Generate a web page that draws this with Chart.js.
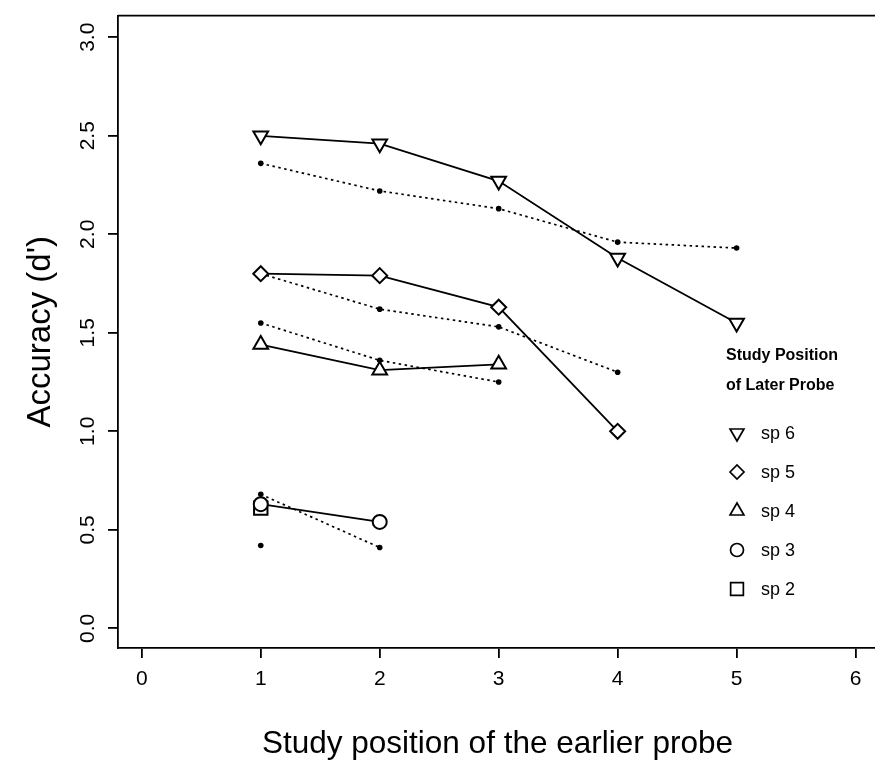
<!DOCTYPE html>
<html><head><meta charset="utf-8">
<script src="https://cdn.jsdelivr.net/npm/chart.js@4.4.1/dist/chart.umd.min.js"></script>
<style>
html,body{margin:0;padding:0;background:#fff;overflow:hidden;width:875px;height:762px}
#wrap{position:absolute;left:0;top:0;width:880px;height:762px}
</style>
</head><body><div id="wrap"><canvas id="c" width="880" height="762"></canvas></div>
<script>
// ---- data ----
const earlierPos = [1, 2, 3, 4, 5];
const xTicks = [0, 1, 2, 3, 4, 5, 6];
const yTicks = [0, 0.5, 1.0, 1.5, 2.0, 2.5, 3.0];
const seriesNames = ['sp 6', 'sp 5', 'sp 4', 'sp 3', 'sp 2'];
// solid lines with open symbols
const sp6 = [2.50, 2.46, 2.27, 1.88, 1.55];
const sp5 = [1.80, 1.79, 1.63, 1.00];
const sp4 = [1.44, 1.31, 1.34];
const sp3 = [0.63, 0.54];
const sp2 = [0.61];
// dotted lines with small dots
const sp6Dot = [2.36, 2.22, 2.13, 1.96, 1.93];
const sp5Dot = [1.80, 1.62, 1.53, 1.30];
const sp4Dot = [1.55, 1.36, 1.25];
const sp3Dot = [0.68, 0.41];
const sp2Dot = [0.42];

const solidSeries = [sp6, sp5, sp4, sp3, sp2];
const dotSeries = [sp6Dot, sp5Dot, sp4Dot, sp3Dot, sp2Dot];
const markerStyles = [
  {pointStyle: 'triangle', rotation: 180, radius: 8.5},
  {pointStyle: 'rectRot', rotation: 0, radius: 7.5},
  {pointStyle: 'triangle', rotation: 0, radius: 8.5},
  {pointStyle: 'circle', rotation: 0, radius: 7},
  {pointStyle: 'rect', rotation: 0, radius: 9.5}
];

const toPts = vals => vals.map((v, i) => ({x: earlierPos[i], y: v}));
const FONT = "'Liberation Sans', Arial, Helvetica, sans-serif";

const datasets = [];
solidSeries.forEach((vals, i) => {
  const m = markerStyles[i];
  datasets.push({
    label: seriesNames[i],
    data: toPts(vals),
    borderColor: '#000', borderWidth: 1.8,
    pointStyle: m.pointStyle, pointRotation: m.rotation, pointRadius: m.radius,
    pointBorderWidth: 2, pointBackgroundColor: '#fff', pointBorderColor: '#000',
    fill: false, tension: 0
  });
});
dotSeries.forEach((vals, i) => {
  datasets.push({
    label: seriesNames[i] + ' (dotted)',
    data: toPts(vals),
    borderColor: '#000', borderWidth: 1.7, borderDash: [2.5, 3.5],
    pointStyle: 'circle', pointRadius: 2.8, pointBorderWidth: 0,
    pointBackgroundColor: '#000', fill: false, tension: 0
  });
});

const boxAndLabels = {
  id: 'boxAndLabels',
  afterDraw(chart) {
    const ctx = chart.ctx, a = chart.chartArea;
    ctx.save();
    // top border of plot box
    ctx.strokeStyle = '#000'; ctx.lineWidth = 1.8;
    ctx.beginPath(); ctx.moveTo(a.left, a.top); ctx.lineTo(a.right, a.top); ctx.stroke();
    // rotated y tick labels
    const ys = chart.scales.y;
    ctx.fillStyle = '#000';
    ctx.font = '21px ' + FONT;
    ctx.textAlign = 'center'; ctx.textBaseline = 'middle';
    ys.ticks.forEach((t, i) => {
      const py = ys.getPixelForTick(i);
      ctx.save(); ctx.translate(88, py); ctx.rotate(-Math.PI / 2);
      ctx.fillText(t.label, 0, 0); ctx.restore();
    });
    // legend
    ctx.textAlign = 'left';
    ctx.font = 'bold 16px ' + FONT;
    ctx.fillText('Study Position', 726, 356);
    ctx.fillText('of Later Probe', 726, 386);
    ctx.font = '18px ' + FONT;
    seriesNames.forEach((name, i) => {
      const y = 433 + 39 * i;
      const m = markerStyles[i];
      ctx.lineWidth = 1.7; ctx.strokeStyle = '#000'; ctx.fillStyle = '#fff';
      Chart.helpers.drawPoint(ctx, {pointStyle: m.pointStyle, rotation: m.rotation, radius: m.radius - 0.5, borderWidth: 1.7}, 737, y);
      ctx.fillStyle = '#000';
      ctx.fillText(name, 761, y + 1);
    });
    ctx.restore();
  }
};

new Chart(document.getElementById('c'), {
  type: 'line',
  data: {datasets},
  plugins: [boxAndLabels],
  options: {
    responsive: false, animation: false,
    layout: {autoPadding: false, padding: {top: 13, right: 3, left: 0, bottom: 0}},
    plugins: {legend: {display: false}, tooltip: {enabled: false}},
    scales: {
      x: {
        type: 'linear', min: -0.2, max: 6.18,
        afterBuildTicks: s => { s.ticks = xTicks.map(v => ({value: v})); },
        afterFit: s => { s.height = 114; },
        ticks: {color: '#000', font: {family: FONT, size: 21}, padding: 9, callback: v => String(v)},
        grid: {drawOnChartArea: false, drawTicks: true, tickLength: 10, color: '#000', lineWidth: 1.8},
        border: {display: true, color: '#000', width: 1.8},
        title: {display: true, text: 'Study position of the earlier probe', color: '#000',
                font: {family: FONT, size: 31.5, lineHeight: 1.1}, padding: {top: 0, bottom: 0}}
      },
      y: {
        type: 'linear', min: -0.1, max: 3.11,
        afterBuildTicks: s => { s.ticks = yTicks.map(v => ({value: v})); },
        afterFit: s => { s.width = 118; },
        ticks: {color: 'rgba(0,0,0,0)', font: {family: FONT, size: 21}, callback: v => v.toFixed(1)},
        grid: {drawOnChartArea: false, drawTicks: true, tickLength: 10, color: '#000', lineWidth: 1.8},
        border: {display: true, color: '#000', width: 1.8},
        title: {display: true, text: "Accuracy (d')", color: '#000',
                font: {family: FONT, size: 33, lineHeight: 1.2}, padding: {top: 21, bottom: 0}}
      }
    }
  }
});
</script>
</body></html>
